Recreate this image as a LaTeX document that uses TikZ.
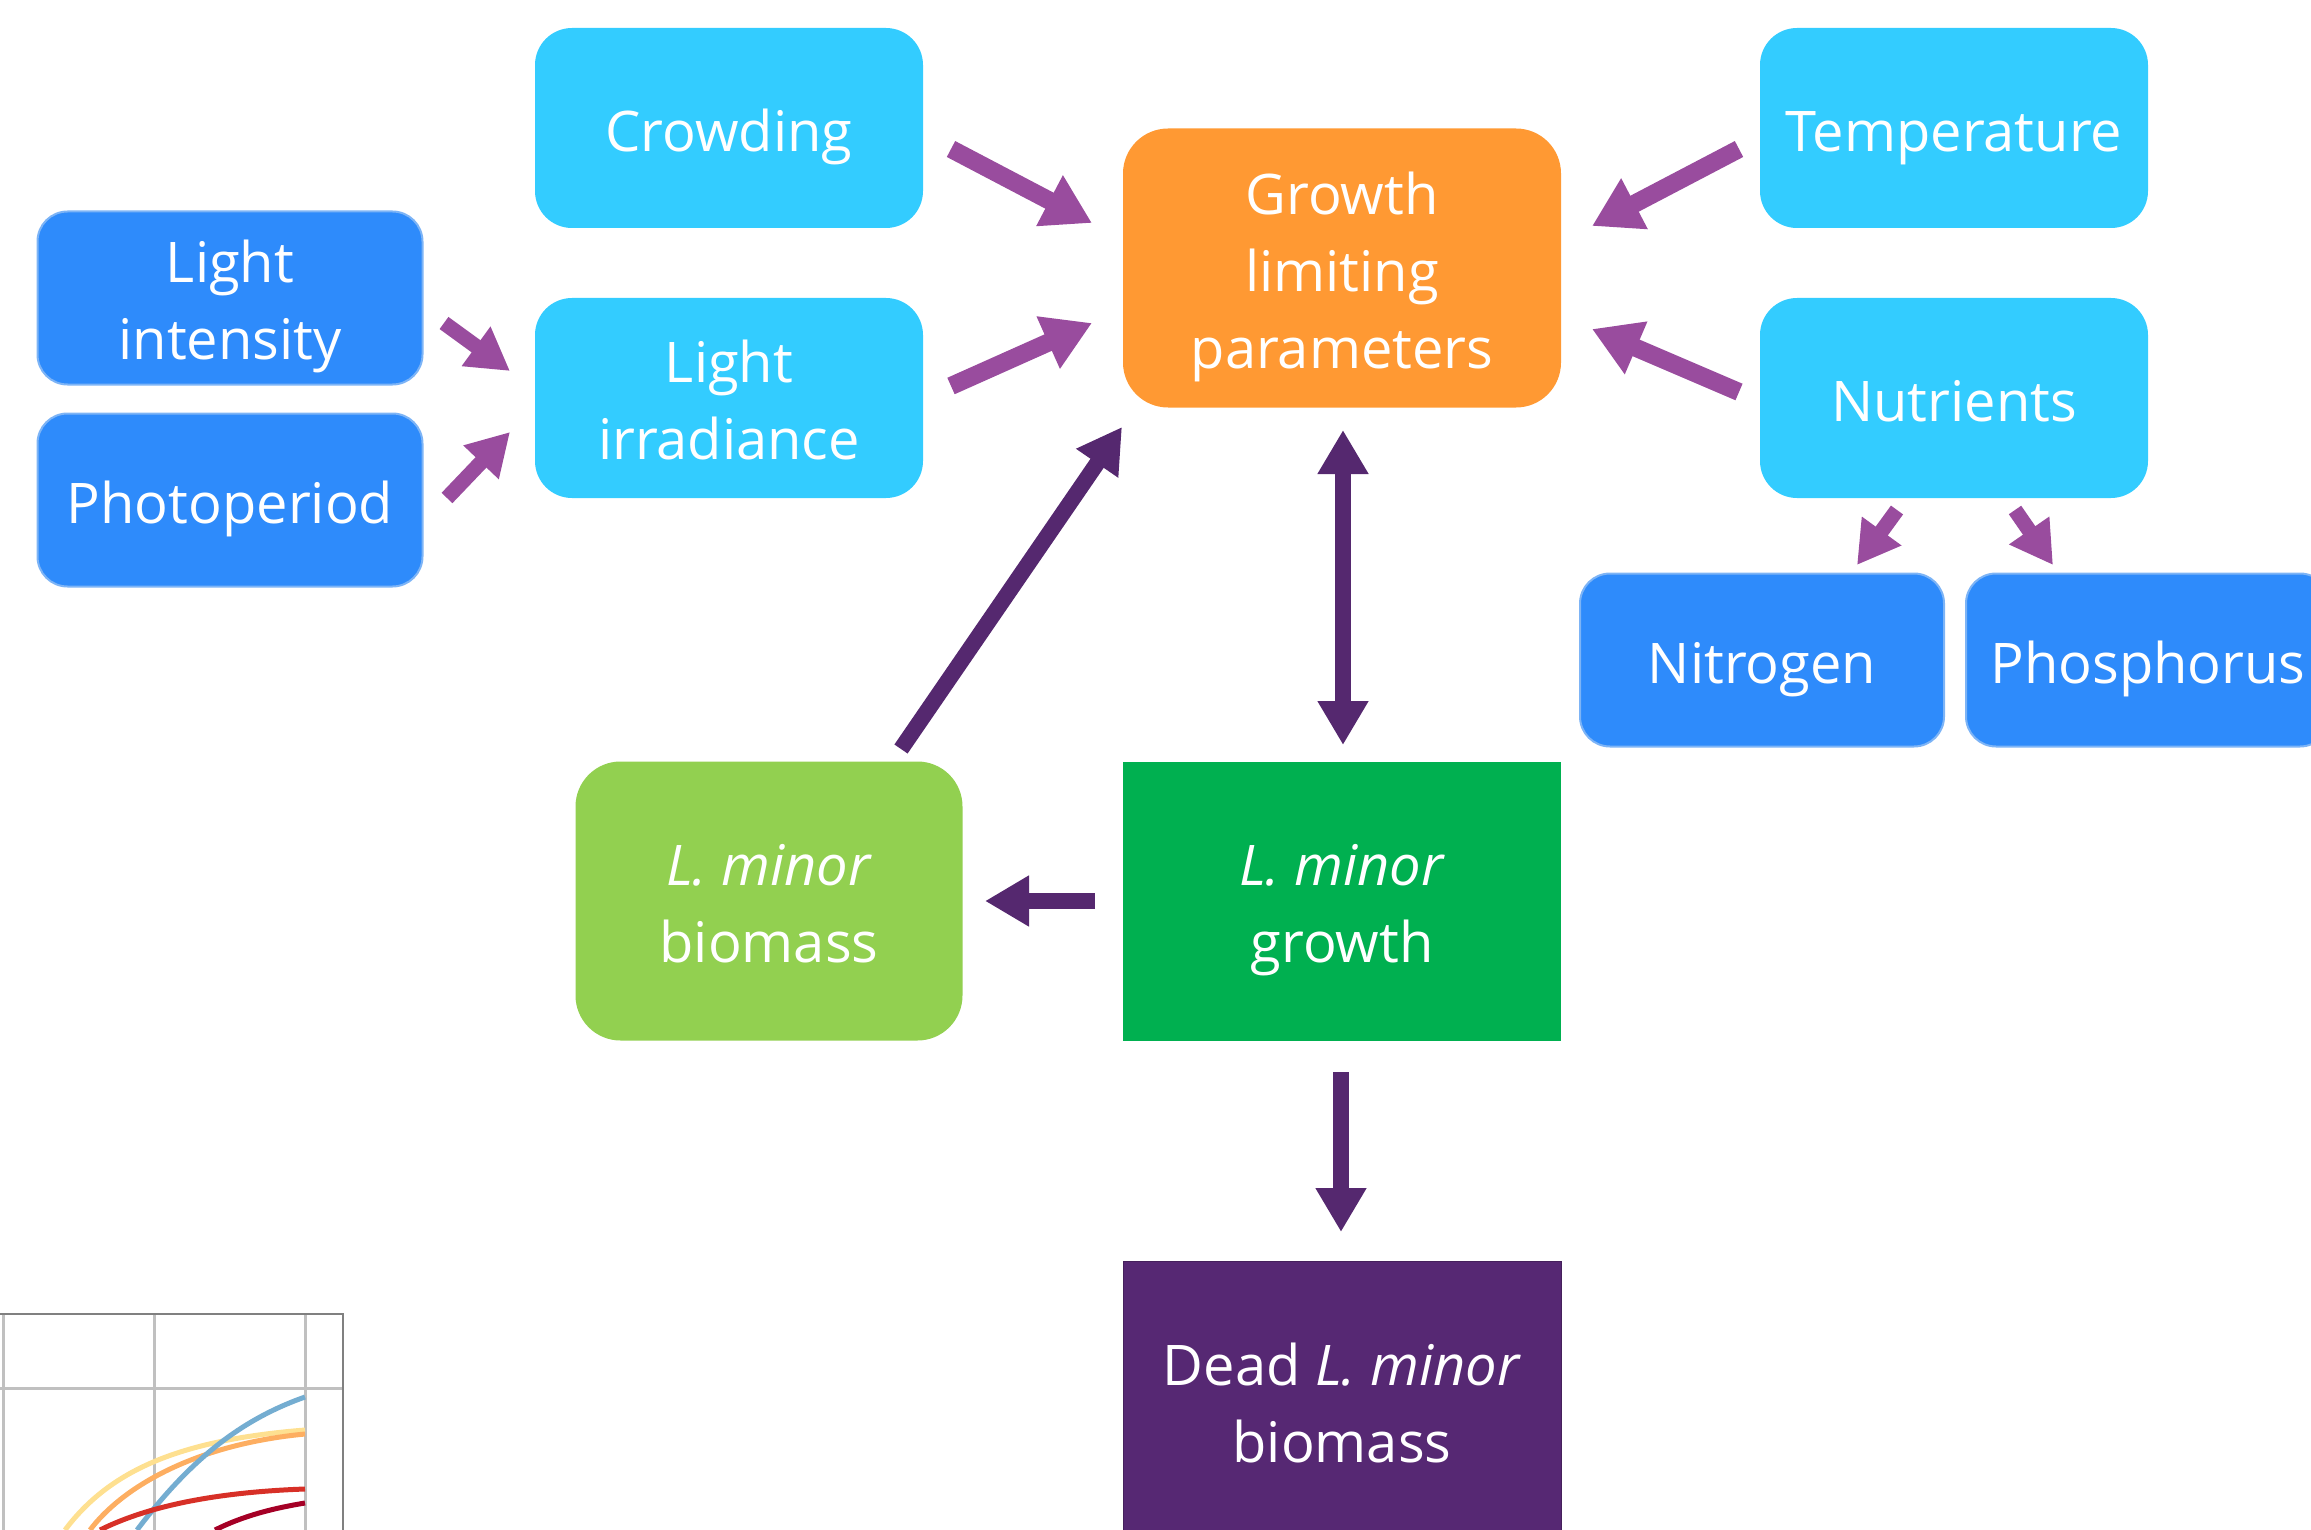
\documentclass[tikz,border=0pt]{standalone}
\usepackage{fontspec}
\setmainfont{Open Sans}
\usetikzlibrary{arrows.meta}
\definecolor{lblue}{HTML}{33CCFF}
\definecolor{dblue}{HTML}{2E8BFB}
\definecolor{dbluebd}{HTML}{7DB4F6}
\definecolor{orangebx}{HTML}{FF9933}
\definecolor{lgreen}{HTML}{92D050}
\definecolor{dgreen}{HTML}{00B050}
\definecolor{dpurple}{HTML}{562873}
\definecolor{arrlight}{HTML}{994C9E}
\definecolor{arrdark}{HTML}{55286F}
\definecolor{gridc}{HTML}{C0C0C0}
\definecolor{framec}{HTML}{808080}
\definecolor{cblue}{HTML}{74ADD1}
\definecolor{cyellow}{HTML}{FEE090}
\definecolor{corange}{HTML}{FDAE61}
\definecolor{cred}{HTML}{D73027}
\definecolor{cdred}{HTML}{A50026}
\newcommand\boxtxt[1]{\raisebox{-8pt}[\height][\depth]{\begin{tabular}{@{}c@{}}#1\end{tabular}}}
\begin{document}
\begin{tikzpicture}[x=1pt,y=-1pt,
  box/.style={inner sep=0pt, text=white, font=\fontsize{56}{77}\selectfont},
  lbox/.style={box, fill=lblue, minimum width=388pt, minimum height=200pt, rounded corners=37pt},
  bbox/.style={box, fill=dblue, draw=dbluebd, line width=2pt, minimum width=385pt, minimum height=173pt, rounded corners=30pt},
  bigbox/.style={box, minimum width=438pt, minimum height=279pt},
  larr/.style={draw=arrlight, line width=18pt, -{Triangle[width=54pt,length=48pt]}},
  sarr/.style={draw=arrlight, line width=15pt, -{Triangle[width=46pt,length=42pt]}},
  darr/.style={draw=arrdark, line width=16pt, -{Triangle[width=48pt,length=44pt]}},
  curve/.style={line width=5pt}
]
\useasboundingbox (0,0) rectangle (2311,1530);
\clip (0,0) rectangle (2311,1530);

% chart fragment
\draw[gridc, line width=3pt] (3,1314) -- (3,1530);
\draw[gridc, line width=3pt] (154,1314) -- (154,1530);
\draw[gridc, line width=3pt] (305,1314) -- (305,1530);
\draw[gridc, line width=3pt] (0,1388) -- (343,1388);
\draw[framec, line width=2pt] (0,1314) -- (343,1314) -- (343,1530);
\draw[curve, cyellow] (65,1530) .. controls (110,1470) and (180,1440) .. (305,1430);
\draw[curve, corange] (90,1530) .. controls (120,1490) and (190,1445) .. (305,1434);
\draw[curve, cblue] (137,1530) .. controls (190,1460) and (240,1420) .. (305,1397);
\draw[curve, cred] (100,1530) .. controls (150,1505) and (220,1492) .. (305,1489);
\draw[curve, cdred] (215,1530) .. controls (245,1515) and (275,1508) .. (305,1503);

% nodes
\node[lbox] (crowd) at (729,128) {\boxtxt{Crowding}};
\node[lbox] (irr) at (729,398) {\boxtxt{Light\\irradiance}};
\node[bbox] (lint) at (230,298) {\boxtxt{Light\\intensity}};
\node[bbox] (photo) at (230,500) {\boxtxt{Photoperiod}};
\node[bigbox, fill=orangebx, rounded corners=45pt] (glp) at (1342,268) {\boxtxt{Growth\\limiting\\parameters}};
\node[lbox] (temp) at (1954,128) {\boxtxt{Temperature}};
\node[lbox] (nutr) at (1954,398) {\boxtxt{Nutrients}};
\node[bbox, minimum width=364pt] (nitro) at (1762,660) {\boxtxt{Nitrogen}};
\node[bbox, minimum width=364pt] (phos) at (2148,660) {\boxtxt{Phosphorus}};
\node[box, fill=lgreen, minimum width=387pt, minimum height=279pt, rounded corners=45pt] (bio) at (769,901) {\boxtxt{\textit{L. minor}\\biomass}};
\node[bigbox, fill=dgreen] (grow) at (1342,901) {\boxtxt{\textit{L. minor}\\growth}};
\node[bigbox, fill=dpurple, draw=dpurple!80!black, line width=1pt] (dead) at (1342,1401) {\boxtxt{Dead \textit{L. minor}\\biomass}};

% arrow end points
\coordinate (a1s) at (951,149);  \coordinate (a1e) at (1092,223);
\coordinate (a2s) at (951,386);  \coordinate (a2e) at (1092,323);
\coordinate (a3s) at (444,323);  \coordinate (a3e) at (510,371);
\coordinate (a4s) at (447,498);  \coordinate (a4e) at (510,432);
\coordinate (a5s) at (1739,149); \coordinate (a5e) at (1592,226);
\coordinate (a6s) at (1739,392); \coordinate (a6e) at (1592,329);
\coordinate (a7s) at (1897,510); \coordinate (a7e) at (1857,565);
\coordinate (a8s) at (2015,510); \coordinate (a8e) at (2053,565);
\coordinate (b1s) at (901,749);  \coordinate (b1e) at (1122,427);
\coordinate (b2s) at (1343,430); \coordinate (b2e) at (1343,745);
\coordinate (b3s) at (1095,901); \coordinate (b3e) at (985,901);
\coordinate (b4s) at (1341,1072); \coordinate (b4e) at (1341,1232);

\draw[larr] (a1s) -- (a1e);
\draw[larr] (a2s) -- (a2e);
\draw[sarr] (a3s) -- (a3e);
\draw[sarr] (a4s) -- (a4e);
\draw[larr] (a5s) -- (a5e);
\draw[larr] (a6s) -- (a6e);
\draw[sarr] (a7s) -- (a7e);
\draw[sarr] (a8s) -- (a8e);
\draw[darr] (b1s) -- (b1e);
\draw[darr, {Triangle[width=48pt,length=44pt]}-{Triangle[width=48pt,length=44pt]}] (b2s) -- (b2e);
\draw[darr] (b3s) -- (b3e);
\draw[darr] (b4s) -- (b4e);
\end{tikzpicture}
\end{document}
